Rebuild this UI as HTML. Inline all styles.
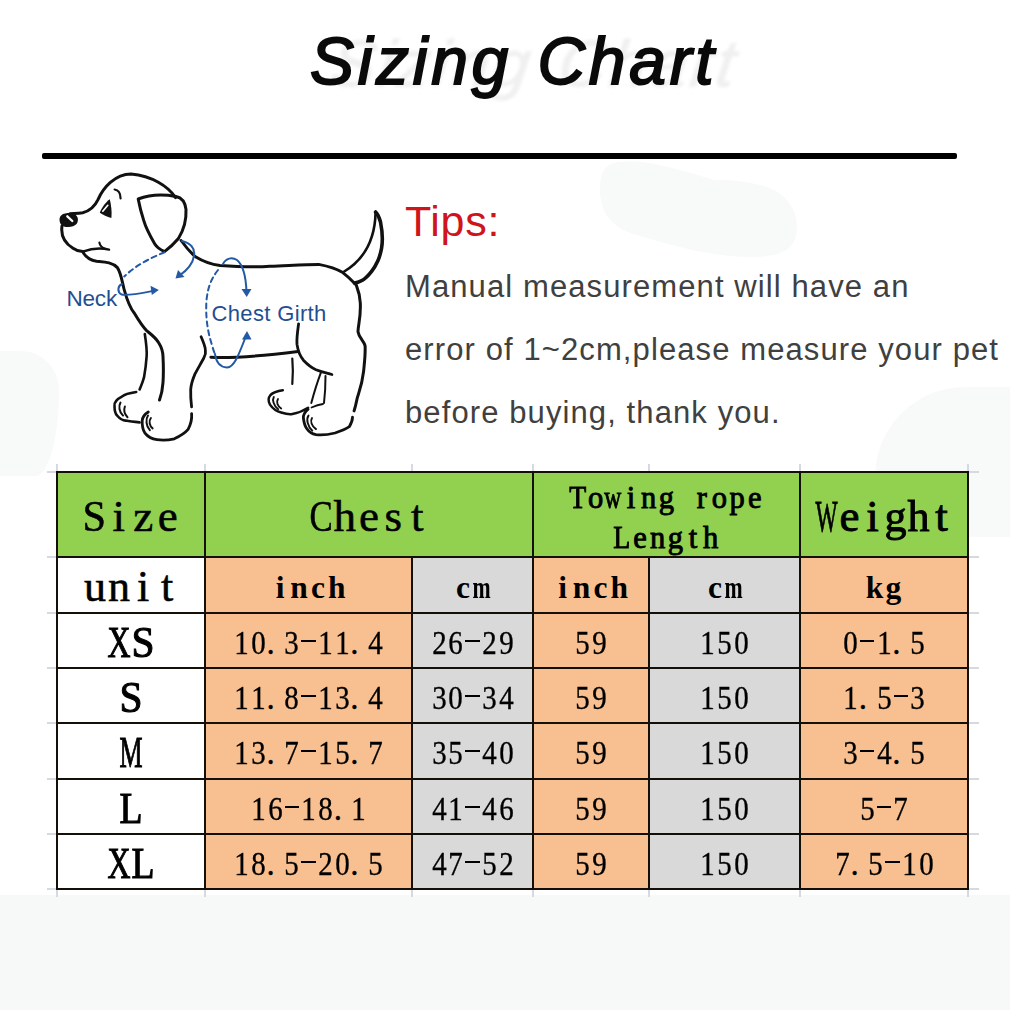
<!DOCTYPE html>
<html><head><meta charset="utf-8">
<style>
html,body{margin:0;padding:0;}
body{width:1010px;height:1010px;position:relative;overflow:hidden;background:#fff;font-family:"Liberation Sans",sans-serif;}
.bg,.ln,.t,.abs{position:absolute;}
.ln{background:#141008;}
.t{font-family:"Liberation Serif",serif;color:#000;white-space:nowrap;}
.t i{font-style:normal;display:inline-flex;justify-content:center;}
#title{position:absolute;left:310px;top:21px;font-family:"Liberation Sans",sans-serif;font-weight:normal;font-style:italic;font-size:66px;line-height:80px;color:#0a0a0a;-webkit-text-stroke:1.9px #0a0a0a;letter-spacing:3.7px;word-spacing:3.5px;white-space:nowrap;}
#rule{position:absolute;left:42px;top:153px;width:915px;height:6px;background:#000;border-radius:2px;}
#tips{position:absolute;left:405px;top:196px;font-size:43px;line-height:50px;color:#d0141c;white-space:nowrap;letter-spacing:0.7px;}
.body{position:absolute;left:405px;font-size:31px;line-height:40px;color:#404040;white-space:nowrap;letter-spacing:1.1px;}
#bottom{position:absolute;left:0;top:895px;width:1010px;height:115px;background:#f7f9f8;}
</style></head><body>
<div id="bottom"></div>
<svg class="abs" style="left:0;top:0" width="1010" height="1010"><path d="M618,162 C645,158 680,170 715,180 C760,180 790,190 796,218 C800,245 790,257 750,257 C715,257 680,248 640,236 C610,228 600,212 600,190 C600,172 605,164 618,162 Z" fill="#f8faf9"/></svg>
<div class="abs" style="left:875px;top:387px;width:220px;height:150px;border-radius:90px 90px 40px 60px;background:#f8faf9"></div>
<div class="abs" style="left:-30px;top:351px;width:89px;height:125px;border-radius:0 48px 30px 0/0 50px 110px 0;background:#f8faf9"></div>
<div id="title" style="left:332px;top:23px;color:#f0f0f0;-webkit-text-stroke:1px #f0f0f0;filter:blur(1.5px);transform:skewX(-8deg)">Sizing Chart</div>
<div id="title">Sizing Chart</div>
<div id="rule"></div>
<svg class="abs" style="left:0;top:0" width="400" height="460" viewBox="0 0 400 460">
<g fill="none" stroke="#111" stroke-width="3" stroke-linecap="round" stroke-linejoin="round">
<!-- skull top + forehead + snout -->
<path d="M175.6,197.6 C168,186 152,176 131,174 C115,174 103,188 98,199.7 C95,206 90,211 82.7,212.8 C78,213.5 74,213.5 70,213.8"/>
<!-- mouth / chin / neck front / chest -->
<path d="M62,226 C61,233 63,242 73,248.2 C77,251 80,251.5 82.7,251.6 C85,256 88,260 96.6,261.3 C104,262 112,262 117.4,267.6 C121,273 122,281 124,289 C127,300 130,308 134.4,313.3 C139,321 143,327 146.6,330.6 C152,335 156,338 158.7,342.7 C162,348 163,352 163,356.6 C163.5,366 163.5,375 163,382.6 C162.5,390 161,396 159.5,400"/>
<!-- lower lip -->
<path d="M82.7,251.6 C90,249 100,247.5 109,249.6" stroke-width="2.5"/>
<!-- smile -->
<path d="M99.4,242.6 C100,246 102,248 106,249" stroke-width="2.2"/>
<!-- eyebrow -->
<path d="M114.6,189.5 C118.5,190 120.5,193 120.6,198.5" stroke-width="2.2"/>
<!-- ear -->
<path d="M138.2,199 C150,194.5 165,194.5 176,196.5 C181,197.5 185,201 186,209.4 C186.5,220 185,228 178.4,238.5 C173,245 168,249 164.5,251.6 C159,249 156,246 154.8,244 C149,234 145,225 143.7,220.4 C141,212 139.5,206 138.2,199 Z"/>
<!-- neck back + back line -->
<path d="M181.1,240.5 C185,246 189,251 195,256.5 C204,262 212,264.5 220,265.5 C240,267 260,267 270,266.3 C290,265.5 305,264.5 318.7,264.4 C330,266.5 337,269 342.8,272.6 C350,278 354,283 356.3,285.1 C359,292 360,297 360.3,303 C361,318 358,325 358,331.7 C359,338 364,341 365.1,345.9 C365.5,355 364.5,362 363.6,371.3 C362,385 359,392 357.2,398.2 C356,404 355,408 354.1,410.9"/>
<!-- tail -->
<path d="M343.5,272 C362,261 375,243 375.6,212" stroke-width="2.6"/>
<path d="M375.6,212 C377.5,214 379.5,218 380.5,222 C382.5,232 382.8,241 381.6,248 C380.5,254 379.5,257 378,260.5 C375.5,266 373.5,269 371.4,271.7 C368,276 365.5,278.5 362.9,280 C359.5,282 357,282.7 354.5,283" stroke-width="3.6"/>
<!-- far front leg back edge -->
<path d="M144.8,334 C146.5,345 147,352 146.6,356.6 C146,366 145,372 144,377.4 C142.5,383 141,386 139.6,389.5" stroke-width="2.6"/>
<!-- far front paw -->
<path d="M136.2,392 C130,393 125,394 122.3,396.4 C117,399 114,402 114.5,406 C114.5,411 115.5,414 117.1,415.5 C120,419 123,420.5 125.8,420.6 C130,421.5 135,422 139.6,422.4" stroke-width="2.6"/>
<path d="M120.5,402.5 C118.5,406 119,412 123,415.5" stroke-width="2"/>
<path d="M124.9,406.5 C123.5,410 124.5,414 127.5,417.2" stroke-width="2"/>
<!-- near front paw -->
<path d="M148.3,412 C145,414 142.5,417 142.2,420.6 C142,426 143,430 144.8,432.8 C148,437 152,439 157,439.7 C163,440.5 169,440 174.3,438.8 C180,436 185,433 188.1,429.3 C191,424 192,418 191.6,413.7" stroke-width="2.8"/>
<path d="M148,415.5 C145.5,419 146,426 149.8,430.2" stroke-width="2"/>
<path d="M150.9,418 C148.5,421 149.5,426 152.6,428.4" stroke-width="2"/>
<!-- near front leg back edge -->
<path d="M201.1,336.7 C203,341 205,346 205.4,349.7 C206,353 205,356 203.7,358.3 C200,365 197,370 195,373.9 C192,381 191,385 190.7,389.5 C190.5,396 191,402 191.6,406.8" stroke-width="2.8"/>
<!-- belly -->
<path d="M210.9,357.3 C240,358.5 270,355 298,351.4" stroke-width="3"/>
<!-- thigh line -->
<path d="M298.6,323.8 C297.5,332 296.5,338 297,344.4 C298,351 300,356 303.4,360.2 C308,365 312,368 316,369.7 C322,372 327,373 331.9,374.5" stroke-width="2.8"/>
<!-- far back leg -->
<path d="M292.3,358.6 C293,366 293,375 292.3,384" stroke-width="2.2"/>
<path d="M282.8,390.3 C278,391 273,392.5 270.5,395 C268,398 268.5,402 270,404.6 C273,409 277,411.5 281.2,412.5 C286,414 290,414.5 292.3,414 C298,413 303,411 308.1,407.7" stroke-width="2.5"/>
<path d="M273.8,397 C272,400 273.8,406 278.2,409.3" stroke-width="1.9"/>
<path d="M278,399 C276,402 277.5,406 281.2,408.5" stroke-width="1.9"/>
<!-- middle back leg lines -->
<path d="M320.8,372.9 C317,383 314,393 311.3,403" stroke-width="2"/>
<path d="M325.5,376 C325.5,386 325,395 324,403" stroke-width="2"/>
<path d="M311.5,407.5 C315,406 320,404.5 323,404" stroke-width="1.8"/>
<!-- near back paw -->
<path d="M308.1,409.3 C305,412 303,415 303.4,418 C304,423 305,426 306.5,428.3 C309,432 312,434 316,434.7 C323,435.5 329,434.5 335,433 C341,431 346,429 349.3,426.7 C351.5,423 352.5,420 352.5,417.2" stroke-width="2.8"/>
<path d="M308.5,415.6 C306,419 307.5,426 312.3,430.7" stroke-width="1.9"/>
<path d="M312,418 C310,421 311.5,426 316,429.1" stroke-width="1.9"/>
</g>
<!-- nose -->
<path d="M59.5,219.5 C59.5,214.5 64.5,212.6 71,213 C76.5,213.6 79,217.8 77.5,222.2 C76,226 70.5,227.3 65.5,226.9 C61.5,226.2 59.5,223.5 59.5,219.5 Z" fill="#111"/>
<path d="M67.3,216.3 L72.3,221" stroke="#fff" stroke-width="2.3" stroke-linecap="round"/>
<!-- eye -->
<path d="M99.8,212.8 C102,207 106,202 109.8,199.3 C111.2,205 112,212 111.4,218 C107,216.8 103,215 99.8,212.8 Z" fill="#111"/>
<path d="M102.8,211.2 L107.8,205.3" stroke="#fff" stroke-width="1.7" fill="none" stroke-linecap="round"/>
<!-- blue measurement marks -->
<g fill="none" stroke="#2459a5" stroke-width="2" stroke-linecap="round">
<path d="M164.5,252.3 C150,258 135,266 124.3,276.5" stroke-dasharray="5 4"/>
<path d="M122,284 C117.5,286 117,292 121.5,294.5 C128,296 142,293 154,290.8"/>
<path d="M182,241 C190,243 195.5,248 194,256 C192.5,265 186,271 179.5,275.5"/>
<path d="M218,270 C211,279 208,287 206.5,300 C205.5,315 207,330 212,345 C213,349 214,352 215,354" stroke-dasharray="5 4"/>
<path d="M223,264 C226,258 232,257 237,260 C243,265 246,278 246.5,292"/>
<path d="M215,354 C216,362 220,367 227,367.5 C234,367 238,357 246,336"/>
</g>
<g fill="#2459a5">
<path d="M158.8,290 L150.5,285.8 L151.8,295 Z"/>
<path d="M175.5,278.5 L184.5,277 L178,270 Z"/>
<path d="M246.7,297 L241.5,289 L251.5,289 Z"/>
<path d="M247,331 L242,339.5 L251.5,339.5 Z"/>
</g>
<text x="66.5" y="306" font-family="Liberation Sans" font-size="22.5" fill="#1f4f92" letter-spacing="-0.2">Neck</text>
<text x="211.5" y="320.8" font-family="Liberation Sans" font-size="22" fill="#1f4f92" letter-spacing="0.35">Chest Girth</text>
</svg>

<div id="tips">Tips:</div>
<div class="body" style="top:267px">Manual measurement will have an</div>
<div class="body" style="top:330px">error of 1~2cm,please measure your pet</div>
<div class="body" style="top:393px">before buying, thank you.</div>
<div class="bg" style="left:47px;top:471px;width:9px;height:1.5px;background:#d6d9e2"></div>
<div class="bg" style="left:969px;top:471px;width:10px;height:1.5px;background:#d6d9e2"></div>
<div class="bg" style="left:47px;top:556px;width:9px;height:1.5px;background:#d6d9e2"></div>
<div class="bg" style="left:969px;top:556px;width:10px;height:1.5px;background:#d6d9e2"></div>
<div class="bg" style="left:47px;top:612px;width:9px;height:1.5px;background:#d6d9e2"></div>
<div class="bg" style="left:969px;top:612px;width:10px;height:1.5px;background:#d6d9e2"></div>
<div class="bg" style="left:47px;top:667px;width:9px;height:1.5px;background:#d6d9e2"></div>
<div class="bg" style="left:969px;top:667px;width:10px;height:1.5px;background:#d6d9e2"></div>
<div class="bg" style="left:47px;top:722px;width:9px;height:1.5px;background:#d6d9e2"></div>
<div class="bg" style="left:969px;top:722px;width:10px;height:1.5px;background:#d6d9e2"></div>
<div class="bg" style="left:47px;top:778px;width:9px;height:1.5px;background:#d6d9e2"></div>
<div class="bg" style="left:969px;top:778px;width:10px;height:1.5px;background:#d6d9e2"></div>
<div class="bg" style="left:47px;top:833px;width:9px;height:1.5px;background:#d6d9e2"></div>
<div class="bg" style="left:969px;top:833px;width:10px;height:1.5px;background:#d6d9e2"></div>
<div class="bg" style="left:47px;top:888px;width:9px;height:1.5px;background:#d6d9e2"></div>
<div class="bg" style="left:969px;top:888px;width:10px;height:1.5px;background:#d6d9e2"></div>
<div class="bg" style="left:56px;top:464px;width:1.5px;height:7px;background:#d6d9e2"></div>
<div class="bg" style="left:56px;top:890px;width:1.5px;height:7px;background:#d6d9e2"></div>
<div class="bg" style="left:204px;top:464px;width:1.5px;height:7px;background:#d6d9e2"></div>
<div class="bg" style="left:204px;top:890px;width:1.5px;height:7px;background:#d6d9e2"></div>
<div class="bg" style="left:411px;top:464px;width:1.5px;height:7px;background:#d6d9e2"></div>
<div class="bg" style="left:411px;top:890px;width:1.5px;height:7px;background:#d6d9e2"></div>
<div class="bg" style="left:532px;top:464px;width:1.5px;height:7px;background:#d6d9e2"></div>
<div class="bg" style="left:532px;top:890px;width:1.5px;height:7px;background:#d6d9e2"></div>
<div class="bg" style="left:648px;top:464px;width:1.5px;height:7px;background:#d6d9e2"></div>
<div class="bg" style="left:648px;top:890px;width:1.5px;height:7px;background:#d6d9e2"></div>
<div class="bg" style="left:799px;top:464px;width:1.5px;height:7px;background:#d6d9e2"></div>
<div class="bg" style="left:799px;top:890px;width:1.5px;height:7px;background:#d6d9e2"></div>
<div class="bg" style="left:967px;top:464px;width:1.5px;height:7px;background:#d6d9e2"></div>
<div class="bg" style="left:967px;top:890px;width:1.5px;height:7px;background:#d6d9e2"></div>
<div class="bg" style="left:56px;top:471px;width:911px;height:85px;background:#92d050"></div>
<div class="bg" style="left:56px;top:556px;width:148px;height:332px;background:#ffffff"></div>
<div class="bg" style="left:204px;top:556px;width:207px;height:332px;background:#f8c090"></div>
<div class="bg" style="left:411px;top:556px;width:121px;height:332px;background:#d9d9d9"></div>
<div class="bg" style="left:532px;top:556px;width:116px;height:332px;background:#f8c090"></div>
<div class="bg" style="left:648px;top:556px;width:151px;height:332px;background:#d9d9d9"></div>
<div class="bg" style="left:799px;top:556px;width:168px;height:332px;background:#f8c090"></div>
<div class="ln" style="left:56px;top:471px;width:913px;height:2px"></div>
<div class="ln" style="left:56px;top:556px;width:913px;height:2px"></div>
<div class="ln" style="left:56px;top:612px;width:913px;height:2px"></div>
<div class="ln" style="left:56px;top:667px;width:913px;height:2px"></div>
<div class="ln" style="left:56px;top:722px;width:913px;height:2px"></div>
<div class="ln" style="left:56px;top:778px;width:913px;height:2px"></div>
<div class="ln" style="left:56px;top:833px;width:913px;height:2px"></div>
<div class="ln" style="left:56px;top:888px;width:913px;height:2px"></div>
<div class="ln" style="left:56px;top:471px;width:2px;height:419px"></div>
<div class="ln" style="left:204px;top:471px;width:2px;height:419px"></div>
<div class="ln" style="left:411px;top:556px;width:2px;height:334px"></div>
<div class="ln" style="left:532px;top:471px;width:2px;height:419px"></div>
<div class="ln" style="left:648px;top:556px;width:2px;height:334px"></div>
<div class="ln" style="left:799px;top:471px;width:2px;height:419px"></div>
<div class="ln" style="left:967px;top:471px;width:2px;height:419px"></div>
<div class="t " style="left:82.0px;top:494.3px;font-size:45px;line-height:45px;font-weight:normal;-webkit-text-stroke:0.55px #000"><i style="width:24.5px;justify-content:center;transform:scaleX(0.940)">S</i><i style="width:24.5px;justify-content:center">i</i><i style="width:24.5px;justify-content:center">z</i><i style="width:24.5px;justify-content:center">e</i></div>
<div class="t " style="left:308.5px;top:493.8px;font-size:45px;line-height:45px;font-weight:normal;-webkit-text-stroke:0.55px #000"><i style="width:24.2px;justify-content:center;transform:scaleX(0.774)">C</i><i style="width:24.2px;justify-content:center">h</i><i style="width:24.2px;justify-content:center">e</i><i style="width:24.2px;justify-content:center">s</i><i style="width:24.2px;justify-content:center">t</i></div>
<div class="t " style="left:569.1px;top:483.2px;font-size:30.5px;line-height:30.5px;font-weight:normal;-webkit-text-stroke:0.9px #000"><i style="width:17.7px;justify-content:center;transform:scaleX(0.912)">T</i><i style="width:17.7px;justify-content:center">o</i><i style="width:17.7px;justify-content:center;transform:scaleX(0.771)">w</i><i style="width:17.7px;justify-content:center">i</i><i style="width:17.7px;justify-content:center">n</i><i style="width:17.7px;justify-content:center">g</i><i style="width:17.7px;justify-content:center">&nbsp;</i><i style="width:17.7px;justify-content:center">r</i><i style="width:17.7px;justify-content:center">o</i><i style="width:17.7px;justify-content:center">p</i><i style="width:17.7px;justify-content:center">e</i></div>
<div class="t " style="left:613.4px;top:522.8px;font-size:30.5px;line-height:30.5px;font-weight:normal;-webkit-text-stroke:0.9px #000"><i style="width:17.7px;justify-content:center;transform:scaleX(0.912)">L</i><i style="width:17.7px;justify-content:center">e</i><i style="width:17.7px;justify-content:center">n</i><i style="width:17.7px;justify-content:center">g</i><i style="width:17.7px;justify-content:center">t</i><i style="width:17.7px;justify-content:center">h</i></div>
<div class="t " style="left:815.0px;top:494.3px;font-size:45px;line-height:45px;font-weight:normal;-webkit-text-stroke:0.9px #000"><i style="width:23px;justify-content:center;transform:scaleX(0.520)">W</i><i style="width:23px;justify-content:center">e</i><i style="width:23px;justify-content:center">i</i><i style="width:23px;justify-content:center;transform:scaleX(0.981)">g</i><i style="width:23px;justify-content:center;transform:scaleX(0.981)">h</i><i style="width:23px;justify-content:center">t</i></div>
<div class="t " style="left:83.0px;top:564.5px;font-size:44px;line-height:44px;font-weight:normal;-webkit-text-stroke:0.55px #000"><i style="width:24px;justify-content:center">u</i><i style="width:24px;justify-content:center">n</i><i style="width:24px;justify-content:center">i</i><i style="width:24px;justify-content:center">t</i></div>
<div class="t " style="left:270.7px;top:571.9px;font-size:31.5px;line-height:31.5px;font-weight:bold"><i style="width:18.9px;justify-content:center">i</i><i style="width:18.9px;justify-content:center">n</i><i style="width:18.9px;justify-content:center">c</i><i style="width:18.9px;justify-content:center">h</i></div>
<div class="t " style="left:453.6px;top:571.9px;font-size:31.5px;line-height:31.5px;font-weight:bold"><i style="width:18.9px;justify-content:center">c</i><i style="width:18.9px;justify-content:center;transform:scaleX(0.691)">m</i></div>
<div class="t " style="left:553.2px;top:571.9px;font-size:31.5px;line-height:31.5px;font-weight:bold"><i style="width:18.9px;justify-content:center">i</i><i style="width:18.9px;justify-content:center">n</i><i style="width:18.9px;justify-content:center">c</i><i style="width:18.9px;justify-content:center">h</i></div>
<div class="t " style="left:705.6px;top:571.9px;font-size:31.5px;line-height:31.5px;font-weight:bold"><i style="width:18.9px;justify-content:center">c</i><i style="width:18.9px;justify-content:center;transform:scaleX(0.691)">m</i></div>
<div class="t " style="left:865.1px;top:571.9px;font-size:31.5px;line-height:31.5px;font-weight:bold"><i style="width:18.9px;justify-content:center">k</i><i style="width:18.9px;justify-content:center">g</i></div>
<div class="t sz" style="left:107.0px;top:619.8px;font-size:45px;line-height:45px;font-weight:normal;-webkit-text-stroke:1.1px #000"><i style="width:24px;justify-content:center;transform:scaleX(0.709)">X</i><i style="width:24px;justify-content:center;transform:scaleX(0.921)">S</i></div>
<div class="t " style="left:233.1px;top:626.9px;font-size:33px;line-height:33px;font-weight:normal;-webkit-text-stroke:0.35px #000"><i style="width:16.75px;justify-content:center;transform:scaleX(0.877)">1</i><i style="width:16.75px;justify-content:center;transform:scaleX(0.877)">0</i><i style="width:16.75px;justify-content:flex-start">.</i><i style="width:16.75px;justify-content:center;transform:scaleX(0.877)">3</i><i style="width:16.75px;justify-content:center"><b style="display:block;width:14.4px;height:1.7px;background:#000;position:relative;top:-11.9px;align-self:flex-end"></b></i><i style="width:16.75px;justify-content:center;transform:scaleX(0.877)">1</i><i style="width:16.75px;justify-content:center;transform:scaleX(0.877)">1</i><i style="width:16.75px;justify-content:flex-start">.</i><i style="width:16.75px;justify-content:center;transform:scaleX(0.877)">4</i></div>
<div class="t " style="left:430.6px;top:626.9px;font-size:33px;line-height:33px;font-weight:normal;-webkit-text-stroke:0.35px #000"><i style="width:16.75px;justify-content:center;transform:scaleX(0.877)">2</i><i style="width:16.75px;justify-content:center;transform:scaleX(0.877)">6</i><i style="width:16.75px;justify-content:center"><b style="display:block;width:14.4px;height:1.7px;background:#000;position:relative;top:-11.9px;align-self:flex-end"></b></i><i style="width:16.75px;justify-content:center;transform:scaleX(0.877)">2</i><i style="width:16.75px;justify-content:center;transform:scaleX(0.877)">9</i></div>
<div class="t " style="left:574.2px;top:626.9px;font-size:33px;line-height:33px;font-weight:normal;-webkit-text-stroke:0.35px #000"><i style="width:16.75px;justify-content:center;transform:scaleX(0.877)">5</i><i style="width:16.75px;justify-content:center;transform:scaleX(0.877)">9</i></div>
<div class="t " style="left:699.4px;top:626.9px;font-size:33px;line-height:33px;font-weight:normal;-webkit-text-stroke:0.35px #000"><i style="width:16.75px;justify-content:center;transform:scaleX(0.877)">1</i><i style="width:16.75px;justify-content:center;transform:scaleX(0.877)">5</i><i style="width:16.75px;justify-content:center;transform:scaleX(0.877)">0</i></div>
<div class="t " style="left:842.1px;top:626.9px;font-size:33px;line-height:33px;font-weight:normal;-webkit-text-stroke:0.35px #000"><i style="width:16.75px;justify-content:center;transform:scaleX(0.877)">0</i><i style="width:16.75px;justify-content:center"><b style="display:block;width:14.4px;height:1.7px;background:#000;position:relative;top:-11.9px;align-self:flex-end"></b></i><i style="width:16.75px;justify-content:center;transform:scaleX(0.877)">1</i><i style="width:16.75px;justify-content:flex-start">.</i><i style="width:16.75px;justify-content:center;transform:scaleX(0.877)">5</i></div>
<div class="t sz" style="left:119.0px;top:674.8px;font-size:45px;line-height:45px;font-weight:normal;-webkit-text-stroke:1.1px #000"><i style="width:24px;justify-content:center;transform:scaleX(0.921)">S</i></div>
<div class="t " style="left:233.1px;top:681.9px;font-size:33px;line-height:33px;font-weight:normal;-webkit-text-stroke:0.35px #000"><i style="width:16.75px;justify-content:center;transform:scaleX(0.877)">1</i><i style="width:16.75px;justify-content:center;transform:scaleX(0.877)">1</i><i style="width:16.75px;justify-content:flex-start">.</i><i style="width:16.75px;justify-content:center;transform:scaleX(0.877)">8</i><i style="width:16.75px;justify-content:center"><b style="display:block;width:14.4px;height:1.7px;background:#000;position:relative;top:-11.9px;align-self:flex-end"></b></i><i style="width:16.75px;justify-content:center;transform:scaleX(0.877)">1</i><i style="width:16.75px;justify-content:center;transform:scaleX(0.877)">3</i><i style="width:16.75px;justify-content:flex-start">.</i><i style="width:16.75px;justify-content:center;transform:scaleX(0.877)">4</i></div>
<div class="t " style="left:430.6px;top:681.9px;font-size:33px;line-height:33px;font-weight:normal;-webkit-text-stroke:0.35px #000"><i style="width:16.75px;justify-content:center;transform:scaleX(0.877)">3</i><i style="width:16.75px;justify-content:center;transform:scaleX(0.877)">0</i><i style="width:16.75px;justify-content:center"><b style="display:block;width:14.4px;height:1.7px;background:#000;position:relative;top:-11.9px;align-self:flex-end"></b></i><i style="width:16.75px;justify-content:center;transform:scaleX(0.877)">3</i><i style="width:16.75px;justify-content:center;transform:scaleX(0.877)">4</i></div>
<div class="t " style="left:574.2px;top:681.9px;font-size:33px;line-height:33px;font-weight:normal;-webkit-text-stroke:0.35px #000"><i style="width:16.75px;justify-content:center;transform:scaleX(0.877)">5</i><i style="width:16.75px;justify-content:center;transform:scaleX(0.877)">9</i></div>
<div class="t " style="left:699.4px;top:681.9px;font-size:33px;line-height:33px;font-weight:normal;-webkit-text-stroke:0.35px #000"><i style="width:16.75px;justify-content:center;transform:scaleX(0.877)">1</i><i style="width:16.75px;justify-content:center;transform:scaleX(0.877)">5</i><i style="width:16.75px;justify-content:center;transform:scaleX(0.877)">0</i></div>
<div class="t " style="left:842.1px;top:681.9px;font-size:33px;line-height:33px;font-weight:normal;-webkit-text-stroke:0.35px #000"><i style="width:16.75px;justify-content:center;transform:scaleX(0.877)">1</i><i style="width:16.75px;justify-content:flex-start">.</i><i style="width:16.75px;justify-content:center;transform:scaleX(0.877)">5</i><i style="width:16.75px;justify-content:center"><b style="display:block;width:14.4px;height:1.7px;background:#000;position:relative;top:-11.9px;align-self:flex-end"></b></i><i style="width:16.75px;justify-content:center;transform:scaleX(0.877)">3</i></div>
<div class="t sz" style="left:119.0px;top:729.8px;font-size:45px;line-height:45px;font-weight:normal;-webkit-text-stroke:1.1px #000"><i style="width:24px;justify-content:center;transform:scaleX(0.576)">M</i></div>
<div class="t " style="left:233.1px;top:736.9px;font-size:33px;line-height:33px;font-weight:normal;-webkit-text-stroke:0.35px #000"><i style="width:16.75px;justify-content:center;transform:scaleX(0.877)">1</i><i style="width:16.75px;justify-content:center;transform:scaleX(0.877)">3</i><i style="width:16.75px;justify-content:flex-start">.</i><i style="width:16.75px;justify-content:center;transform:scaleX(0.877)">7</i><i style="width:16.75px;justify-content:center"><b style="display:block;width:14.4px;height:1.7px;background:#000;position:relative;top:-11.9px;align-self:flex-end"></b></i><i style="width:16.75px;justify-content:center;transform:scaleX(0.877)">1</i><i style="width:16.75px;justify-content:center;transform:scaleX(0.877)">5</i><i style="width:16.75px;justify-content:flex-start">.</i><i style="width:16.75px;justify-content:center;transform:scaleX(0.877)">7</i></div>
<div class="t " style="left:430.6px;top:736.9px;font-size:33px;line-height:33px;font-weight:normal;-webkit-text-stroke:0.35px #000"><i style="width:16.75px;justify-content:center;transform:scaleX(0.877)">3</i><i style="width:16.75px;justify-content:center;transform:scaleX(0.877)">5</i><i style="width:16.75px;justify-content:center"><b style="display:block;width:14.4px;height:1.7px;background:#000;position:relative;top:-11.9px;align-self:flex-end"></b></i><i style="width:16.75px;justify-content:center;transform:scaleX(0.877)">4</i><i style="width:16.75px;justify-content:center;transform:scaleX(0.877)">0</i></div>
<div class="t " style="left:574.2px;top:736.9px;font-size:33px;line-height:33px;font-weight:normal;-webkit-text-stroke:0.35px #000"><i style="width:16.75px;justify-content:center;transform:scaleX(0.877)">5</i><i style="width:16.75px;justify-content:center;transform:scaleX(0.877)">9</i></div>
<div class="t " style="left:699.4px;top:736.9px;font-size:33px;line-height:33px;font-weight:normal;-webkit-text-stroke:0.35px #000"><i style="width:16.75px;justify-content:center;transform:scaleX(0.877)">1</i><i style="width:16.75px;justify-content:center;transform:scaleX(0.877)">5</i><i style="width:16.75px;justify-content:center;transform:scaleX(0.877)">0</i></div>
<div class="t " style="left:842.1px;top:736.9px;font-size:33px;line-height:33px;font-weight:normal;-webkit-text-stroke:0.35px #000"><i style="width:16.75px;justify-content:center;transform:scaleX(0.877)">3</i><i style="width:16.75px;justify-content:center"><b style="display:block;width:14.4px;height:1.7px;background:#000;position:relative;top:-11.9px;align-self:flex-end"></b></i><i style="width:16.75px;justify-content:center;transform:scaleX(0.877)">4</i><i style="width:16.75px;justify-content:flex-start">.</i><i style="width:16.75px;justify-content:center;transform:scaleX(0.877)">5</i></div>
<div class="t sz" style="left:119.0px;top:785.8px;font-size:45px;line-height:45px;font-weight:normal;-webkit-text-stroke:1.1px #000"><i style="width:24px;justify-content:center;transform:scaleX(0.838)">L</i></div>
<div class="t " style="left:249.9px;top:792.9px;font-size:33px;line-height:33px;font-weight:normal;-webkit-text-stroke:0.35px #000"><i style="width:16.75px;justify-content:center;transform:scaleX(0.877)">1</i><i style="width:16.75px;justify-content:center;transform:scaleX(0.877)">6</i><i style="width:16.75px;justify-content:center"><b style="display:block;width:14.4px;height:1.7px;background:#000;position:relative;top:-11.9px;align-self:flex-end"></b></i><i style="width:16.75px;justify-content:center;transform:scaleX(0.877)">1</i><i style="width:16.75px;justify-content:center;transform:scaleX(0.877)">8</i><i style="width:16.75px;justify-content:flex-start">.</i><i style="width:16.75px;justify-content:center;transform:scaleX(0.877)">1</i></div>
<div class="t " style="left:430.6px;top:792.9px;font-size:33px;line-height:33px;font-weight:normal;-webkit-text-stroke:0.35px #000"><i style="width:16.75px;justify-content:center;transform:scaleX(0.877)">4</i><i style="width:16.75px;justify-content:center;transform:scaleX(0.877)">1</i><i style="width:16.75px;justify-content:center"><b style="display:block;width:14.4px;height:1.7px;background:#000;position:relative;top:-11.9px;align-self:flex-end"></b></i><i style="width:16.75px;justify-content:center;transform:scaleX(0.877)">4</i><i style="width:16.75px;justify-content:center;transform:scaleX(0.877)">6</i></div>
<div class="t " style="left:574.2px;top:792.9px;font-size:33px;line-height:33px;font-weight:normal;-webkit-text-stroke:0.35px #000"><i style="width:16.75px;justify-content:center;transform:scaleX(0.877)">5</i><i style="width:16.75px;justify-content:center;transform:scaleX(0.877)">9</i></div>
<div class="t " style="left:699.4px;top:792.9px;font-size:33px;line-height:33px;font-weight:normal;-webkit-text-stroke:0.35px #000"><i style="width:16.75px;justify-content:center;transform:scaleX(0.877)">1</i><i style="width:16.75px;justify-content:center;transform:scaleX(0.877)">5</i><i style="width:16.75px;justify-content:center;transform:scaleX(0.877)">0</i></div>
<div class="t " style="left:858.9px;top:792.9px;font-size:33px;line-height:33px;font-weight:normal;-webkit-text-stroke:0.35px #000"><i style="width:16.75px;justify-content:center;transform:scaleX(0.877)">5</i><i style="width:16.75px;justify-content:center"><b style="display:block;width:14.4px;height:1.7px;background:#000;position:relative;top:-11.9px;align-self:flex-end"></b></i><i style="width:16.75px;justify-content:center;transform:scaleX(0.877)">7</i></div>
<div class="t sz" style="left:107.0px;top:840.8px;font-size:45px;line-height:45px;font-weight:normal;-webkit-text-stroke:1.1px #000"><i style="width:24px;justify-content:center;transform:scaleX(0.709)">X</i><i style="width:24px;justify-content:center;transform:scaleX(0.838)">L</i></div>
<div class="t " style="left:233.1px;top:847.9px;font-size:33px;line-height:33px;font-weight:normal;-webkit-text-stroke:0.35px #000"><i style="width:16.75px;justify-content:center;transform:scaleX(0.877)">1</i><i style="width:16.75px;justify-content:center;transform:scaleX(0.877)">8</i><i style="width:16.75px;justify-content:flex-start">.</i><i style="width:16.75px;justify-content:center;transform:scaleX(0.877)">5</i><i style="width:16.75px;justify-content:center"><b style="display:block;width:14.4px;height:1.7px;background:#000;position:relative;top:-11.9px;align-self:flex-end"></b></i><i style="width:16.75px;justify-content:center;transform:scaleX(0.877)">2</i><i style="width:16.75px;justify-content:center;transform:scaleX(0.877)">0</i><i style="width:16.75px;justify-content:flex-start">.</i><i style="width:16.75px;justify-content:center;transform:scaleX(0.877)">5</i></div>
<div class="t " style="left:430.6px;top:847.9px;font-size:33px;line-height:33px;font-weight:normal;-webkit-text-stroke:0.35px #000"><i style="width:16.75px;justify-content:center;transform:scaleX(0.877)">4</i><i style="width:16.75px;justify-content:center;transform:scaleX(0.877)">7</i><i style="width:16.75px;justify-content:center"><b style="display:block;width:14.4px;height:1.7px;background:#000;position:relative;top:-11.9px;align-self:flex-end"></b></i><i style="width:16.75px;justify-content:center;transform:scaleX(0.877)">5</i><i style="width:16.75px;justify-content:center;transform:scaleX(0.877)">2</i></div>
<div class="t " style="left:574.2px;top:847.9px;font-size:33px;line-height:33px;font-weight:normal;-webkit-text-stroke:0.35px #000"><i style="width:16.75px;justify-content:center;transform:scaleX(0.877)">5</i><i style="width:16.75px;justify-content:center;transform:scaleX(0.877)">9</i></div>
<div class="t " style="left:699.4px;top:847.9px;font-size:33px;line-height:33px;font-weight:normal;-webkit-text-stroke:0.35px #000"><i style="width:16.75px;justify-content:center;transform:scaleX(0.877)">1</i><i style="width:16.75px;justify-content:center;transform:scaleX(0.877)">5</i><i style="width:16.75px;justify-content:center;transform:scaleX(0.877)">0</i></div>
<div class="t " style="left:833.8px;top:847.9px;font-size:33px;line-height:33px;font-weight:normal;-webkit-text-stroke:0.35px #000"><i style="width:16.75px;justify-content:center;transform:scaleX(0.877)">7</i><i style="width:16.75px;justify-content:flex-start">.</i><i style="width:16.75px;justify-content:center;transform:scaleX(0.877)">5</i><i style="width:16.75px;justify-content:center"><b style="display:block;width:14.4px;height:1.7px;background:#000;position:relative;top:-11.9px;align-self:flex-end"></b></i><i style="width:16.75px;justify-content:center;transform:scaleX(0.877)">1</i><i style="width:16.75px;justify-content:center;transform:scaleX(0.877)">0</i></div>
</body></html>
